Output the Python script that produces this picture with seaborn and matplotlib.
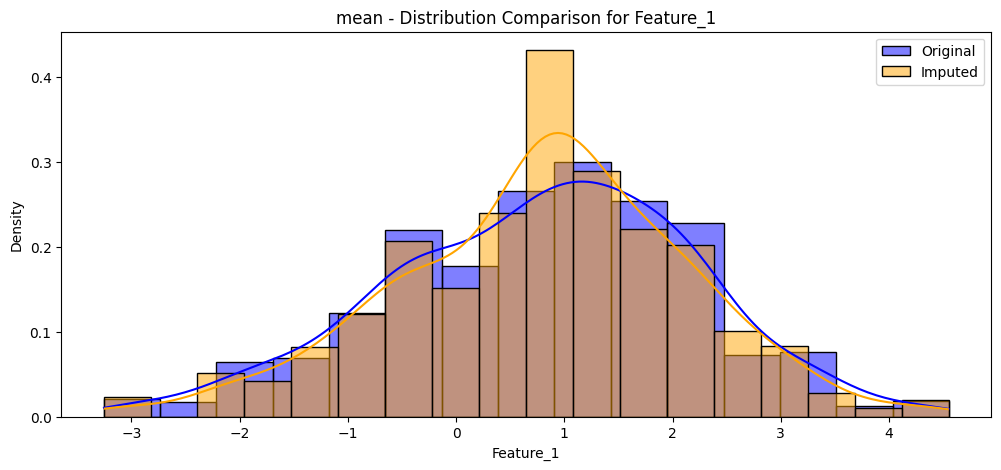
import numpy as np
import pandas as pd
import matplotlib
matplotlib.use("Agg")
import matplotlib.pyplot as plt
import seaborn as sns

feature = "Feature_1"
method = "mean"

# data range (mean imputation keeps min / max the same)
x_min, x_max = -3.256, 4.554

# bin densities
original_density = [0.0212, 0.0176, 0.0640, 0.0687, 0.1228, 0.2205, 0.1781, 0.2664,
                    0.3005, 0.2546, 0.2287, 0.0724, 0.0767, 0.0131, 0.0189]
imputed_density = [0.0235, 0.0, 0.0511, 0.0420, 0.0824, 0.1205, 0.2075, 0.1522, 0.2396,
                   0.4322, 0.2899, 0.2216, 0.2028, 0.1016, 0.0828, 0.0279, 0.0099, 0.0193]


def bin_table(density):
    edges = np.linspace(x_min, x_max, len(density) + 1)
    centers = (edges[:-1] + edges[1:]) / 2
    return pd.DataFrame({feature: centers, "w": density}), edges.tolist()


orig_df, orig_edges = bin_table(original_density)
imp_df, imp_edges = bin_table(imputed_density)

plt.figure(figsize=(12, 5))
sns.histplot(data=orig_df, x=feature, weights="w", bins=orig_edges, stat="density",
             kde=True, color="blue", label="Original",
             kde_kws={"bw_adjust": 0.44, "cut": 0.43})
sns.histplot(data=imp_df, x=feature, weights="w", bins=imp_edges, stat="density",
             kde=True, color="orange", label="Imputed",
             kde_kws={"bw_adjust": 0.44, "cut": 0.36})
plt.title(f"{method} - Distribution Comparison for {feature}")
plt.legend()
plt.savefig("out.png", dpi=100, bbox_inches="tight")
